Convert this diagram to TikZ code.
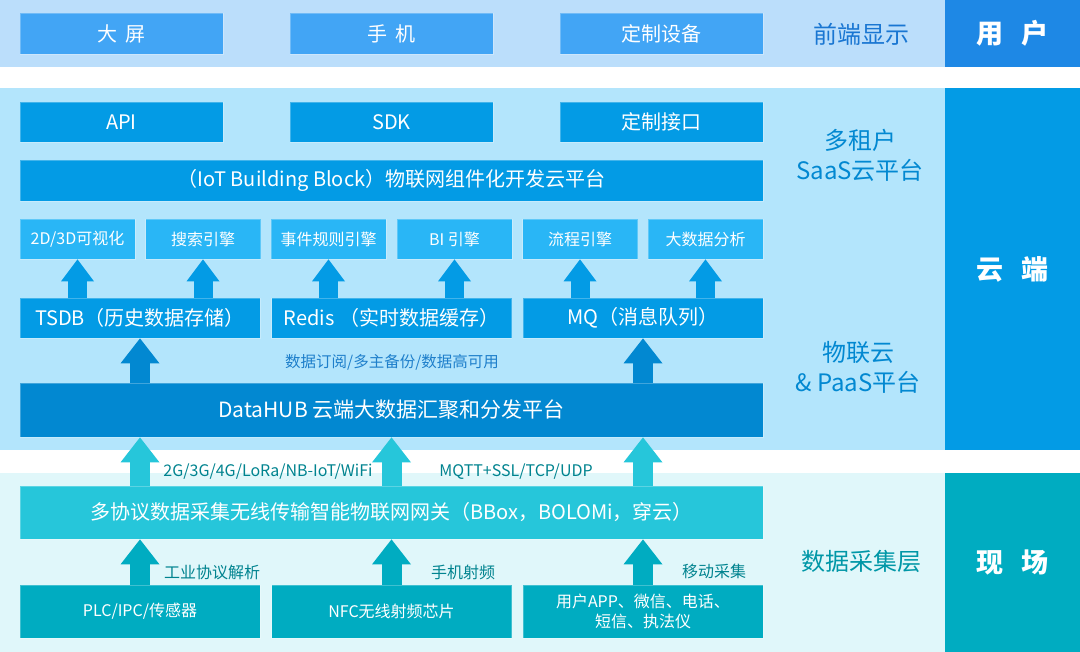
\documentclass[tikz,border=0pt]{standalone}
\usepackage{fontspec}
\setmainfont{Noto Sans CJK SC}
\usetikzlibrary{arrows.meta}
\definecolor{fbg}{HTML}{BBDEFB}
\definecolor{fbx}{HTML}{42A5F5}
\definecolor{ubx}{HTML}{1E88E5}
\definecolor{cbg}{HTML}{B3E5FC}
\definecolor{cbx}{HTML}{039BE5}
\definecolor{ebx}{HTML}{29B6F6}
\definecolor{hbx}{HTML}{0288D1}
\definecolor{sbg}{HTML}{E0F7FA}
\definecolor{gbx}{HTML}{26C6DA}
\definecolor{sbx}{HTML}{00ACC1}
\definecolor{ftx}{HTML}{1976D2}
\definecolor{ctx}{HTML}{0288D1}
\definecolor{mtx}{HTML}{1E7FCB}
\definecolor{stx}{HTML}{00838F}
\definecolor{ltx}{HTML}{0097A7}
\tikzset{bx/.style={draw=white,draw opacity=.25,line width=.8pt,text=white,inner sep=0pt,minimum height=40pt},
 fe/.style={bx,fill=fbx,minimum width=203pt,minimum height=41pt,font=\fontsize{20}{24}\selectfont},
 sa/.style={bx,fill=cbx,minimum width=203pt,font=\fontsize{20}{24}\selectfont},
 bar/.style={bx,minimum width=743pt,font=\fontsize{20}{24}\selectfont},
 en/.style={bx,fill=ebx,minimum width=115pt,font=\fontsize{16}{20}\selectfont},
 st/.style={bx,fill=cbx,minimum width=240pt,font=\fontsize{20}{24}\selectfont},
 sr/.style={bx,fill=sbx,minimum width=240pt,minimum height=53pt,align=center,font=\fontsize{16}{20}\selectfont},
 side/.style={text=white,inner sep=0pt,minimum width=135pt,font=\fontsize{27}{32}\selectfont\bfseries},
 lyr/.style={align=center,font=\fontsize{24}{30}\selectfont},
 tag/.style={inner sep=0pt,font=\fontsize{16}{20}\selectfont},
 ea/.style={draw=cbx,line width=19pt,-{Triangle[width=33pt,length=22pt,line width=0pt]}},
 ba/.style={line width=20pt,-{Triangle[width=39pt,length=25pt,line width=0pt]}}}
\begin{document}
\begin{tikzpicture}[x=1pt,y=-1pt]
\useasboundingbox (0,0) rectangle (1080,652);
% bands
\fill[fbg] (0,0) rectangle (945,67);
\fill[cbg] (0,88) rectangle (945,450);
\fill[sbg] (0,473) rectangle (945,652);
\node[side,fill=ubx,minimum height=67pt] (user) at (1012.5,33.5) {用\hspace{.65em}户};
\node[side,fill=cbx,minimum height=362pt] (cloud) at (1012.5,269) {云\hspace{.65em}端};
\node[side,fill=sbx,minimum height=179pt] (site) at (1012.5,562.5) {现\hspace{.65em}场};
% front end
\node[fe] (scr) at (121.5,33.5) {大\hspace{.4em}屏};
\node[fe] (mob) at (391.5,33.5) {手\hspace{.4em}机};
\node[fe] (dev) at (661.5,33.5) {定制设备};
\node[lyr,text=ftx] (lfe) at (861,34) {前端显示};
% SaaS
\node[sa] (api) at (121.5,122) {API};
\node[sa] (sdk) at (391.5,122) {SDK};
\node[sa] (itf) at (661.5,122) {定制接口};
\node[bar,fill=cbx,minimum height=41pt] (ibb) at (391.5,180.5) {（IoT Building Block）物联网组件化开发云平台};
\node[lyr,text=ctx] (lsa) at (860,155) {多租户\\SaaS云平台};
% engines
\node[en] (v1) at (77.5,239) {2D/3D可视化};
\node[en] (v2) at (203,239) {搜索引擎};
\node[en] (v3) at (328.5,239) {事件规则引擎};
\node[en] (v4) at (454.5,239) {BI 引擎};
\node[en] (v5) at (580,239) {流程引擎};
\node[en] (v6) at (705.5,239) {大数据分析};
% storage
\node[st] (tsdb) at (140,318) {TSDB（历史数据存储）};
\node[st] (rds) at (391.5,318) {Redis （实时数据缓存）};
\node[st] (mq) at (643,318) {MQ（消息队列）};
\foreach \v/\s in {v1/tsdb,v2/tsdb,v3/rds,v4/rds,v5/mq,v6/mq}
  \draw[ea] (\s.north -| \v) -- (\v.south);
\node[tag,text=mtx,font=\fontsize{15.5}{19}\selectfont] (sub) at (392,362) {数据订阅/多主备份/数据高可用};
\node[bar,fill=hbx,minimum height=54pt,font=\fontsize{21}{25}\selectfont] (hub) at (391.5,410) {DataHUB 云端大数据汇聚和分发平台};
\draw[ba,draw=hbx] (hub.north -| tsdb) -- (tsdb.south);
\draw[ba,draw=hbx] (hub.north -| mq) -- (mq.south);
\node[lyr,text=ctx] (lpa) at (858,367) {物联云\\\& PaaS平台};
% gateway
\node[bar,fill=gbx,minimum height=53pt] (gw) at (391.5,512.5) {多协议数据采集无线传输智能物联网网关（BBox，BOLOMi，穿云）};
\draw[ba,draw=gbx] (gw.north -| tsdb) -- (hub.south -| tsdb);
\draw[ba,draw=gbx] (gw.north -| rds) -- (hub.south -| rds);
\draw[ba,draw=gbx] (gw.north -| mq) -- (hub.south -| mq);
\node[tag,text=stx] (net) at (268,472) {2G/3G/4G/LoRa/NB-IoT/WiFi};
\node[tag,text=stx] (prt) at (516,472) {MQTT+SSL/TCP/UDP};
% sources
\node[sr] (plc) at (140,611.5) {PLC/IPC/传感器};
\node[sr] (nfc) at (391.5,611.5) {NFC无线射频芯片};
\node[sr] (app) at (643,611.5) {用户APP、微信、电话、\\短信、执法仪};
\foreach \s in {plc,nfc,app}
  \draw[ba,draw=sbx] (\s.north) -- (gw.south -| \s);
\node[tag,text=stx] (t1) at (212,572) {工业协议解析};
\node[tag,text=stx] (t2) at (463,572) {手机射频};
\node[tag,text=stx] (t3) at (714,571) {移动采集};
\node[lyr,text=ltx] (lsc) at (861,561) {数据采集层};
\end{tikzpicture}
\end{document}
